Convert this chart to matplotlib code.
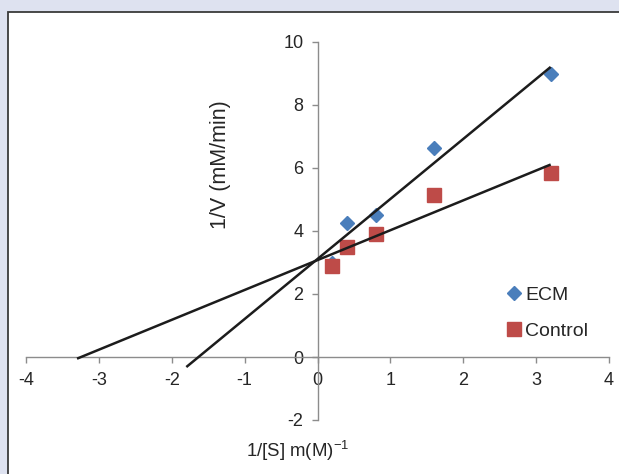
import numpy as np
import matplotlib
matplotlib.use("Agg")
import matplotlib.pyplot as plt
from matplotlib.patches import Rectangle

plt.rcParams['font.family'] = ['Liberation Sans', 'DejaVu Sans']
plt.rcParams['mathtext.default'] = 'regular'

# Data
inv_s = [0.2, 0.4, 0.8, 1.6, 3.2]
ecm_inv_v = [2.98, 4.25, 4.51, 6.65, 8.98]
control_inv_v = [2.89, 3.49, 3.90, 5.14, 5.84]
ecm_fit_range = [-1.8, 3.2]
control_fit_range = [-3.3, 3.2]
x_ticks = [-4, -3, -2, -1, 0, 1, 2, 3, 4]
y_ticks = [-2, 0, 2, 4, 6, 8, 10]

W, H = 619, 474
fig = plt.figure(figsize=(W / 100, H / 100), dpi=100)
fig.patch.set_facecolor('#dee2f0')
panel = Rectangle((8 / W, -0.1), 1.2, 1 - 12 / H + 0.1, transform=fig.transFigure,
                  facecolor='white', edgecolor='#3a3a3a', linewidth=1.3, zorder=-10)
fig.add_artist(panel)

ax = fig.add_axes([26 / W, 1 - 420 / H, (609 - 26) / W, (420 - 42) / H])
ax.set_zorder(1)
ax.set_facecolor('none')
ax.set_xlim(-4, 4)
ax.set_ylim(-2, 10)

for s in ['top', 'right']:
    ax.spines[s].set_visible(False)
ax.spines['left'].set_position(('data', 0))
ax.spines['bottom'].set_position(('data', 0))
for s in ['left', 'bottom']:
    ax.spines[s].set_color('#8c8c8c')
    ax.spines[s].set_linewidth(1.0)

ax.set_xticks(x_ticks)
ax.set_yticks(y_ticks)
ax.set_xticklabels([str(t) for t in x_ticks])
ax.set_yticklabels([str(t) for t in y_ticks])
ax.tick_params(axis='both', direction='out', length=4, width=1.0, color='#8c8c8c',
               labelsize=13, labelcolor='#262626')
ax.tick_params(axis='x', pad=7)
ax.tick_params(axis='y', pad=6)

ax.plot(inv_s, ecm_inv_v, linestyle='none', marker='D', markersize=7,
        color='#4a7ebb', label='ECM', zorder=3)
ax.plot(inv_s, control_inv_v, linestyle='none', marker='s', markersize=10,
        color='#be4b48', label='Control', zorder=3)

for ys, rng in [(ecm_inv_v, ecm_fit_range), (control_inv_v, control_fit_range)]:
    k, b = np.polyfit(inv_s, ys, 1)
    xr = np.array(rng)
    ax.plot(xr, k * xr + b, color='#1c1c1c', linewidth=1.8, zorder=4,
            solid_capstyle='butt')

ax.set_xlabel('1/[S] m(M)$^{-1}$', fontsize=13.4, color='#262626')
ax.xaxis.set_label_coords((298 - 26) / (609 - 26), (420 - 439) / (420 - 42))
ax.set_ylabel('1/V (mM/min)', fontsize=15.5, color='#262626')
ax.yaxis.set_label_coords((231 - 26) / (609 - 26), (420 - 165) / (420 - 42))

leg = ax.legend(loc='center left', bbox_to_anchor=((508 - 26) / (609 - 26), (420 - 313) / (420 - 42)),
                frameon=False, fontsize=14, handlelength=0.6, handletextpad=0.3,
                labelspacing=0.95, borderpad=0, borderaxespad=0, markerscale=0.95)
for t in leg.get_texts():
    t.set_color('#262626')

fig.savefig('out.png', dpi=100, facecolor=fig.get_facecolor())
